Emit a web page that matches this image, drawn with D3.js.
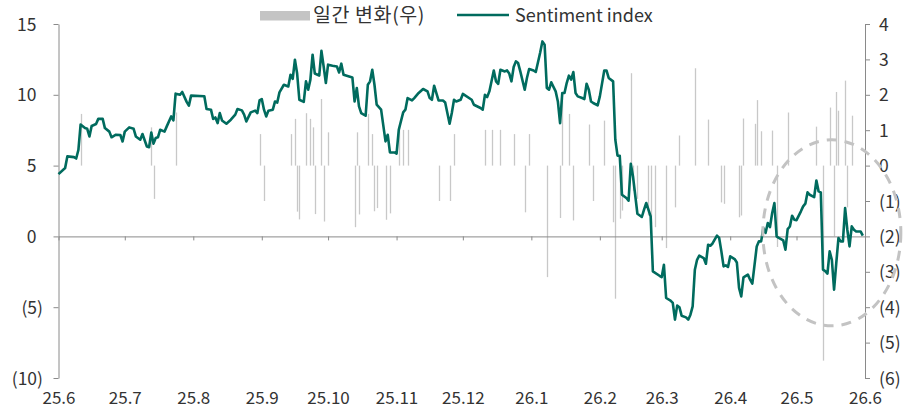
<!DOCTYPE html>
<html><head><meta charset="utf-8">
<script src="https://cdn.jsdelivr.net/npm/d3@7"></script>
<style>
html,body{margin:0;padding:0;background:#fff;}
svg{display:block;font-family:"Noto Sans CJK KR","Noto Sans",sans-serif;}
</style></head>
<body><svg id="c" width="903" height="410"></svg>
<script>
const lineDates = ["2025-06-01","2025-06-04","2025-06-05","2025-06-08","2025-06-09","2025-06-10","2025-06-11","2025-06-13","2025-06-14","2025-06-15","2025-06-16","2025-06-18","2025-06-19","2025-06-21","2025-06-22","2025-06-24","2025-06-25","2025-06-27","2025-06-29","2025-06-30",
"2025-07-01","2025-07-03","2025-07-05","2025-07-06","2025-07-08","2025-07-09","2025-07-11","2025-07-12","2025-07-13","2025-07-14","2025-07-15","2025-07-16","2025-07-17","2025-07-19","2025-07-20","2025-07-22","2025-07-23","2025-07-24","2025-07-26","2025-07-27","2025-07-29","2025-07-30","2025-07-31",
"2025-08-06","2025-08-07","2025-08-09","2025-08-10","2025-08-11","2025-08-12","2025-08-13","2025-08-14","2025-08-16","2025-08-18","2025-08-20","2025-08-21","2025-08-23","2025-08-24","2025-08-25","2025-08-27","2025-08-29","2025-08-30","2025-08-31",
"2025-09-01","2025-09-02","2025-09-03","2025-09-04","2025-09-06","2025-09-07","2025-09-08","2025-09-09","2025-09-11","2025-09-13","2025-09-14","2025-09-15","2025-09-16","2025-09-17","2025-09-18","2025-09-20","2025-09-21","2025-09-22","2025-09-23","2025-09-24","2025-09-25","2025-09-27","2025-09-28","2025-09-29","2025-09-30",
"2025-10-01","2025-10-03","2025-10-05","2025-10-06","2025-10-07","2025-10-08","2025-10-12","2025-10-13","2025-10-14","2025-10-15","2025-10-16","2025-10-18","2025-10-19","2025-10-20","2025-10-21","2025-10-22","2025-10-23","2025-10-25","2025-10-27","2025-10-28","2025-10-29","2025-10-31",
"2025-11-01","2025-11-02","2025-11-04","2025-11-05","2025-11-06","2025-11-08","2025-11-09","2025-11-11","2025-11-13","2025-11-15","2025-11-16","2025-11-17","2025-11-18","2025-11-20","2025-11-22","2025-11-23","2025-11-25","2025-11-26","2025-11-27","2025-11-28","2025-11-30",
"2025-12-01","2025-12-05","2025-12-06","2025-12-09","2025-12-10","2025-12-11","2025-12-12","2025-12-13","2025-12-15","2025-12-16","2025-12-17","2025-12-18","2025-12-20","2025-12-21","2025-12-22","2025-12-23","2025-12-24","2025-12-25","2025-12-26","2025-12-27","2025-12-29","2025-12-30","2025-12-31",
"2026-01-02","2026-01-03","2026-01-05","2026-01-06","2026-01-07","2026-01-08","2026-01-09","2026-01-10","2026-01-12","2026-01-13","2026-01-14","2026-01-15","2026-01-16","2026-01-17","2026-01-18","2026-01-19","2026-01-20","2026-01-21","2026-01-22","2026-01-24","2026-01-25","2026-01-26","2026-01-27","2026-01-28","2026-01-29","2026-01-31",
"2026-02-01","2026-02-03","2026-02-04","2026-02-05","2026-02-07","2026-02-08","2026-02-09","2026-02-10","2026-02-11","2026-02-13","2026-02-14","2026-02-15","2026-02-16","2026-02-18","2026-02-20","2026-02-21","2026-02-22","2026-02-24","2026-02-25","2026-02-28",
"2026-03-01","2026-03-02","2026-03-03","2026-03-05","2026-03-06","2026-03-07","2026-03-08","2026-03-09","2026-03-10","2026-03-12","2026-03-13","2026-03-14","2026-03-15","2026-03-16","2026-03-17","2026-03-18","2026-03-20","2026-03-21","2026-03-22","2026-03-23","2026-03-24","2026-03-26","2026-03-27","2026-03-28","2026-03-29","2026-03-30","2026-03-31",
"2026-04-01","2026-04-03","2026-04-04","2026-04-05","2026-04-06","2026-04-07","2026-04-09","2026-04-10","2026-04-11","2026-04-13","2026-04-14","2026-04-15","2026-04-16","2026-04-17","2026-04-18","2026-04-19","2026-04-20","2026-04-21","2026-04-22","2026-04-23","2026-04-25","2026-04-26","2026-04-27","2026-04-28","2026-04-29","2026-04-30",
"2026-05-01","2026-05-03","2026-05-04","2026-05-05","2026-05-06","2026-05-07","2026-05-09","2026-05-10","2026-05-11","2026-05-12","2026-05-13","2026-05-14","2026-05-15","2026-05-16","2026-05-17","2026-05-18","2026-05-19","2026-05-20","2026-05-21","2026-05-22","2026-05-23","2026-05-24","2026-05-25","2026-05-26","2026-05-27","2026-05-28","2026-05-30","2026-05-31"];

const sentiment = [4.4,4.83,5.65,5.6,5.5,6.1,7.9,7.65,7.6,7.06,7.8,7.94,8.3,8.3,7.65,7.4,7.0,7.18,7.16,6.7,
7.4,7.7,7.6,7.06,6.83,7.23,6.35,6.3,7.34,6.55,6.95,7.0,7.53,7.4,7.77,8.47,8.2,10.08,10.0,10.2,9.5,9.23,9.94,
9.9,9.0,8.95,8.29,8.4,8.0,8.71,8.19,7.96,8.24,8.6,9.0,8.9,8.6,8.12,8.76,8.88,8.71,9.6,
9.7,8.95,8.47,8.88,8.95,9.53,9.45,10.17,10.71,10.59,11.42,11.12,12.48,11.5,9.65,9.5,10.95,10.36,11.07,12.83,11.5,11.36,13.1,12.0,10.83,
12.13,12.05,12.0,11.58,12.2,11.42,11.23,9.53,10.48,9.18,8.71,8.52,10.71,10.95,11.77,10.71,9.3,8.95,6.71,7.18,5.93,5.93,
5.84,7.53,8.76,8.95,9.77,9.6,9.77,10.13,10.41,10.24,9.77,9.65,10.64,9.6,9.6,9.46,7.96,8.71,9.65,9.53,9.65,
10.06,9.65,9.3,9.07,8.95,10.0,9.84,10.24,11.72,10.95,10.78,11.77,11.65,11.72,11.5,10.95,11.96,12.36,12.24,11.65,10.36,11.19,11.82,
11.72,11.61,12.99,13.77,13.54,10.48,10.36,10.88,10.24,9.53,8.0,10.13,10.13,10.83,11.35,11.07,11.61,10.13,9.89,9.77,9.7,10.78,10.36,9.53,9.42,9.25,
9.89,11.72,11.72,11.19,10.95,6.83,5.7,5.7,2.94,2.71,2.52,5.13,4.24,1.6,1.37,1.89,2.36,1.41,-2.47,-2.78,
-2.87,-2.0,-4.35,-4.54,-4.7,-5.88,-4.89,-5.0,-5.6,-5.72,-5.88,-5.53,-4.94,-2.35,-1.65,-1.36,-1.53,-1.93,-0.59,-0.66,-0.5,0.05,-0.11,-1.06,-2.12,-2.05,-2.16,
-1.41,-1.6,-1.84,-3.64,-4.24,-2.9,-2.7,-3.06,-3.34,-0.71,-0.35,-0.35,0.59,0.24,0.95,0.66,1.65,2.36,0.0,-0.11,-0.28,-0.94,0.52,0.7,1.46,1.18,
1.15,1.77,2.12,2.31,3.11,2.94,2.78,3.95,3.18,3.11,-2.35,-2.45,-2.63,-1.06,-1.65,-3.76,-1.88,-0.11,-0.35,-0.35,2.0,0.47,-0.71,0.71,0.47,0.35,0.35,0.05];

const barDates = ["2025-06-11","2025-07-13","2025-07-14","2025-07-24","2025-08-31","2025-09-02","2025-09-14","2025-09-16","2025-09-17","2025-09-18","2025-09-21","2025-09-23","2025-09-24","2025-09-25","2025-09-28","2025-09-29",
"2025-10-01","2025-10-13","2025-10-14","2025-10-15","2025-10-19","2025-10-21","2025-10-22","2025-10-23","2025-10-27","2025-10-29","2025-11-02","2025-11-04","2025-11-06","2025-11-20","2025-11-25","2025-11-27",
"2025-12-11","2025-12-14","2025-12-18","2025-12-24","2025-12-29","2025-12-31","2026-01-08","2026-01-14","2026-01-15","2026-01-18","2026-01-20","2026-01-27","2026-01-29",
"2026-02-03","2026-02-07","2026-02-08","2026-02-10","2026-02-11","2026-02-15","2026-02-16","2026-02-18","2026-02-23","2026-02-24","2026-02-26",
"2026-03-03","2026-03-07","2026-03-09","2026-03-16","2026-03-22","2026-03-28","2026-03-29","2026-04-05","2026-04-06","2026-04-07","2026-04-12","2026-04-13","2026-04-15","2026-04-20","2026-04-22","2026-04-27",
"2026-05-10","2026-05-13","2026-05-16","2026-05-18","2026-05-19","2026-05-20","2026-05-23","2026-05-24","2026-05-26"];
const dailyChange = [1.46,1.08,-0.94,1.5,0.89,-1.0,0.89,1.32,-1.3,-1.52,1.48,1.32,1.08,-1.37,1.88,-1.58,
0.94,-1.74,0.94,-1.38,1.46,0.89,-1.29,-1.2,-1.53,-1.35,1.13,1.01,1.01,-1.0,-1.0,0.89,
1.01,1.01,1.01,0.89,-1.32,0.89,-3.15,-1.48,1.9,1.46,-1.55,1.16,-1.0,
1.27,-1.6,-3.76,-1.5,-1.27,2.61,-0.71,-0.94,-1.41,-1.65,-1.74,
-2.33,-1.18,0.85,2.75,1.3,-1.04,-1.08,-1.46,-1.41,1.33,1.18,1.85,0.97,0.99,-2.3,1.5,
1.1,-5.51,1.64,-2.0,2.08,1.55,2.4,-1.18,1.41];

const leftTicks = [15,10,5,0,-5,-10];
const rightTicks = [4,3,2,1,0,-1,-2,-3,-4,-5,-6];
const xTickDates = ["2025-06-01","2025-07-01","2025-08-01","2025-09-01","2025-10-01","2025-11-01","2025-12-01","2026-01-01","2026-02-01","2026-03-01","2026-04-01","2026-05-01","2026-06-01"];
const xTickLabels = ["25.6","25.7","25.8","25.9","25.10","25.11","25.12","26.1","26.2","26.3","26.4","26.5","26.6"];
const legendLabels = ["일간 변화(우)","Sentiment index"];

const parse = d3.timeParse("%Y-%m-%d");
const svg = d3.select("#c");
const TXT = "#333";
const FS = 17.5;
const FONT = "'Noto Sans CJK KR','Noto Sans',sans-serif";

const x = d3.scaleTime().domain([parse("2025-06-01"), parse("2026-06-01")]).range([58.5, 865]);
const yL = d3.scaleLinear().domain([-10,15]).range([378,24]);
const yR = d3.scaleLinear().domain([-6,4]).range([378,24]);
const fmt = v => v < 0 ? "(" + (-v) + ")" : String(v);

// bars (right axis)
svg.append("g").selectAll("line").data(barDates.map((d,i)=>({date:parse(d), v:dailyChange[i]})))
  .join("line")
  .attr("x1", d=>Math.round(x(d.date))+0.5).attr("x2", d=>Math.round(x(d.date))+0.5)
  .attr("y1", yR(0)).attr("y2", d=>yR(d.v))
  .attr("stroke", "#c8c8c8").attr("stroke-width", 1.3);

// x axis at zero
const xTicks = xTickDates.map(parse);
const gx = svg.append("g").attr("transform", `translate(0,${yL(0)})`)
  .call(d3.axisBottom(x).tickValues(xTicks).tickSize(4).tickSizeOuter(0)
        .tickFormat((d,i)=>xTickLabels[i]));
gx.select(".domain").attr("stroke","#8a8a8a");
gx.selectAll(".tick line").attr("stroke","#8a8a8a");
gx.selectAll(".tick text").attr("y", 404 - yL(0)).attr("dy", 0)
  .attr("fill", TXT).style("font-size", "17px").style("font-family", FONT);

// left axis
const gl = svg.append("g").attr("transform","translate(58.5,0)")
  .call(d3.axisLeft(yL).tickValues(leftTicks).tickSize(5).tickSizeOuter(0).tickFormat(fmt));
gl.select(".domain").attr("stroke","#8a8a8a");
gl.selectAll(".tick line").attr("stroke","#8a8a8a");
gl.selectAll(".tick text").attr("x", d => d < 0 ? -15.5 : -22).attr("dy","0.35em")
  .attr("fill", TXT).style("font-size", FS+"px").style("font-family", FONT);

// right axis
const gr = svg.append("g").attr("transform","translate(865,0)")
  .call(d3.axisRight(yR).tickValues(rightTicks).tickSize(5).tickPadding(9).tickSizeOuter(0).tickFormat(fmt));
gr.select(".domain").attr("stroke","#8a8a8a");
gr.selectAll(".tick line").attr("stroke","#8a8a8a");
gr.selectAll(".tick text").attr("dy","0.35em")
  .attr("fill", TXT).style("font-size", FS+"px").style("font-family", FONT);

// sentiment line
const lineData = lineDates.map((d,i)=>({date:parse(d), v:sentiment[i]}));
svg.append("path").datum(lineData)
  .attr("d", d3.line().x(d=>x(d.date)).y(d=>yL(d.v)))
  .attr("fill","none").attr("stroke","#006b5e").attr("stroke-width",2.6)
  .attr("stroke-linejoin","round");

// dashed highlight ellipse
svg.append("ellipse")
  .attr("cx", x(parse("2026-05-17"))).attr("cy", yL(0.25))
  .attr("rx", 69).attr("ry", 93)
  .attr("fill","none").attr("stroke","#c3c3c3").attr("stroke-width",3)
  .attr("stroke-dasharray","10,8");

// legend
const lg = svg.append("g");
lg.append("rect").attr("x",260).attr("y",11).attr("width",50).attr("height",9.5).attr("fill","#c4c4c4");
lg.append("text").attr("x",313).attr("y",22).text(legendLabels[0])
  .attr("fill",TXT).style("font-size","19.5px").style("letter-spacing","0.6px").style("font-family", FONT);
lg.append("line").attr("x1",457).attr("x2",509).attr("y1",15).attr("y2",15)
  .attr("stroke","#006b5e").attr("stroke-width",2.6);
lg.append("text").attr("x",515).attr("y",22).text(legendLabels[1])
  .attr("fill",TXT).style("font-size","18px").style("font-family", FONT);
</script></body></html>
